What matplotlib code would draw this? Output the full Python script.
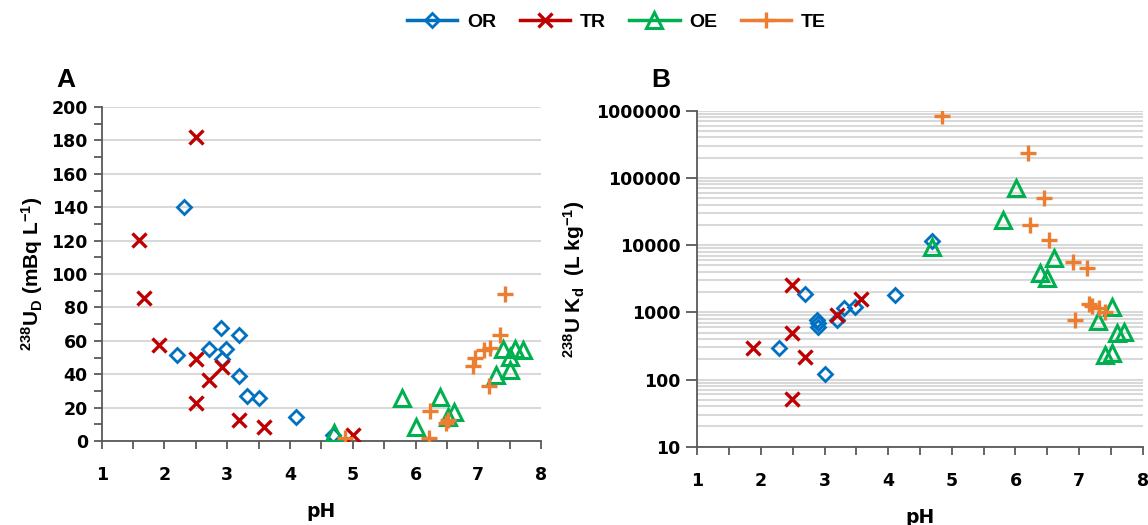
import numpy as np
import matplotlib
matplotlib.use("Agg")
import matplotlib.pyplot as plt
from matplotlib.lines import Line2D
from matplotlib.ticker import FixedLocator, MultipleLocator, LogLocator, NullFormatter

plt.rcParams['font.family'] = ['DejaVu Sans']
plt.rcParams['font.weight'] = 'bold'
plt.rcParams['mathtext.fontset'] = 'custom'
plt.rcParams['mathtext.rm'] = 'Liberation Sans:bold'
plt.rcParams['mathtext.bf'] = 'Liberation Sans:bold'
plt.rcParams['mathtext.it'] = 'Liberation Sans:bold'
lab_font = 'Liberation Sans'

# colours of the four groups
c_or = '#0070C0'
c_tr = '#C00000'
c_oe = '#00B050'
c_te = '#ED7D31'

# ---- panel A : 238U_D (mBq/L) vs pH
or_ph_a = [2.2, 2.31, 2.71, 2.90, 2.91, 2.98, 3.19, 3.19, 3.31, 3.51, 4.10, 4.69]
or_ud_a = [51.5, 140.3, 54.9, 67.9, 48.9, 54.9, 63.5, 38.9, 26.9, 26.0, 14.2, 3.6]
tr_ph_a = [1.59, 1.68, 1.91, 2.50, 2.50, 2.50, 2.71, 2.91, 3.19, 3.59, 5.01]
tr_ud_a = [120.4, 85.8, 57.5, 182.2, 49.1, 22.6, 36.5, 44.5, 12.6, 8.6, 3.6]
oe_ph_a = [4.70, 5.79, 6.01, 6.39, 6.52, 6.61, 7.29, 7.51, 7.39, 7.51, 7.59, 7.72]
oe_ud_a = [5.0, 25.6, 8.6, 26.5, 14.6, 17.6, 39.5, 42.5, 54.9, 50.5, 54.9, 54.5]
te_ph_a = [4.88, 6.21, 6.23, 6.49, 6.52, 6.91, 6.94, 7.09, 7.19, 7.34, 7.17, 7.42]
te_ud_a = [1.6, 1.6, 18.2, 10.6, 12.6, 44.9, 49.9, 54.5, 55.5, 63.5, 32.9, 88.0]

# ---- panel B : 238U Kd (L/kg) vs pH
or_ph_b = [2.29, 2.69, 2.88, 2.89, 2.89, 3.01, 3.19, 3.30, 3.48, 4.10, 4.69]
or_kd_b = [297, 1870, 767, 611, 700, 119, 767, 1150, 1210, 1800, 11600]
tr_ph_b = [1.87, 2.49, 2.49, 2.69, 2.49, 3.19, 3.58]
tr_kd_b = [291, 2550, 497, 218, 51, 912, 1560]
oe_ph_b = [4.69, 6.01, 5.81, 6.60, 6.39, 6.49, 7.52, 7.30, 7.59, 7.70, 7.41, 7.52]
oe_kd_b = [9460, 70000, 23700, 6370, 3800, 3200, 1210, 741, 487, 514, 232, 245]
te_ph_b = [4.85, 6.20, 6.45, 6.23, 6.53, 6.91, 7.13, 7.15, 7.32, 7.41, 6.94, 7.20]
te_kd_b = [843000, 232000, 49700, 19900, 11900, 5660, 4520, 1315, 1150, 1020, 767, 1250]

fig = plt.figure(figsize=(11.48, 5.25), dpi=100)
axA = fig.add_axes([0.0886, 0.16, 0.3827, 0.636])
axB = fig.add_axes([0.6074, 0.1491, 0.388, 0.640])

styles = dict(
    OR=dict(marker='D', ms=7.5, mfc='none', mec=c_or, mew=2.0, color=c_or),
    TR=dict(marker='x', ms=10, mec=c_tr, mew=2.4, color=c_tr),
    OE=dict(marker='^', ms=11, mfc='none', mec=c_oe, mew=2.2, color=c_oe),
    TE=dict(marker='+', ms=11, mec=c_te, mew=2.4, color=c_te),
)

def scatter(ax, x, y, key):
    st = styles[key]
    ax.plot(x, y, ls='none', zorder=3, **st)

scatter(axA, or_ph_a, or_ud_a, 'OR')
scatter(axA, tr_ph_a, tr_ud_a, 'TR')
scatter(axA, oe_ph_a, oe_ud_a, 'OE')
scatter(axA, te_ph_a, te_ud_a, 'TE')

scatter(axB, or_ph_b, or_kd_b, 'OR')
scatter(axB, tr_ph_b, tr_kd_b, 'TR')
scatter(axB, oe_ph_b, oe_kd_b, 'OE')
scatter(axB, te_ph_b, te_kd_b, 'TE')

spine_col = '#595959'
grid_col = '#D9D9D9'

for ax in (axA, axB):
    for s in ('top', 'right'):
        ax.spines[s].set_visible(False)
    for s in ('left', 'bottom'):
        ax.spines[s].set_color(spine_col)
        ax.spines[s].set_linewidth(1.3)
    ax.set_xlim(1, 8)
    ax.xaxis.set_major_locator(MultipleLocator(1))
    ax.xaxis.set_minor_locator(MultipleLocator(0.5))
    ax.tick_params(which='both', direction='out', color=spine_col, width=1.3,
                   labelsize=12.5, pad=4)
    ax.tick_params(which='major', length=6)
    ax.tick_params(axis='x', which='minor', length=6)
    ax.tick_params(axis='x', pad=12)
    ax.set_xlabel('pH', fontsize=13.5, fontweight='bold', labelpad=13)
    ax.set_axisbelow(True)

# panel A axis
axA.set_ylim(0, 200)
axA.yaxis.set_major_locator(MultipleLocator(20))
axA.yaxis.set_minor_locator(MultipleLocator(10))
axA.tick_params(axis='y', which='minor', length=6)
axA.grid(axis='y', which='major', color=grid_col, lw=1.5)
axA.set_ylabel(r'$^{238}$U$_D$ (mBq L$^{-1}$)', fontsize=15, fontweight='bold',
               family=lab_font, labelpad=5)

# panel B axis
axB.set_yscale('log')
axB.set_ylim(10, 1e6)
axB.yaxis.set_major_locator(FixedLocator([10, 100, 1000, 10000, 100000, 1000000]))
axB.yaxis.set_major_formatter(matplotlib.ticker.FuncFormatter(lambda v, p: '%d' % round(v)))
axB.yaxis.set_minor_locator(LogLocator(base=10, subs=np.arange(2, 10)))
axB.yaxis.set_minor_formatter(NullFormatter())
axB.tick_params(axis='y', which='minor', length=0)
axB.tick_params(axis='y', which='major', length=8)
axB.grid(axis='y', which='both', color=grid_col, lw=1.5)
axB.set_ylabel(r'$^{238}$U K$_d$  (L kg$^{-1}$)', fontsize=15, fontweight='bold',
               family=lab_font, labelpad=6)

fig.text(0.049, 0.835, 'A', fontsize=19, fontweight='bold', family=lab_font)
fig.text(0.567, 0.835, 'B', fontsize=19, fontweight='bold', family=lab_font)

handles = []
for key in ('OR', 'TR', 'OE', 'TE'):
    st = dict(styles[key])
    handles.append(Line2D([0], [0], lw=2.5, label=key, **st))
fig.legend(handles=handles, loc='center', bbox_to_anchor=(0.537, 0.958), ncol=4,
           frameon=False, handlelength=2.6, columnspacing=1.2, handletextpad=0.5,
           prop=dict(family=lab_font, weight='bold', size=14))

fig.savefig('out.png', dpi=100)
